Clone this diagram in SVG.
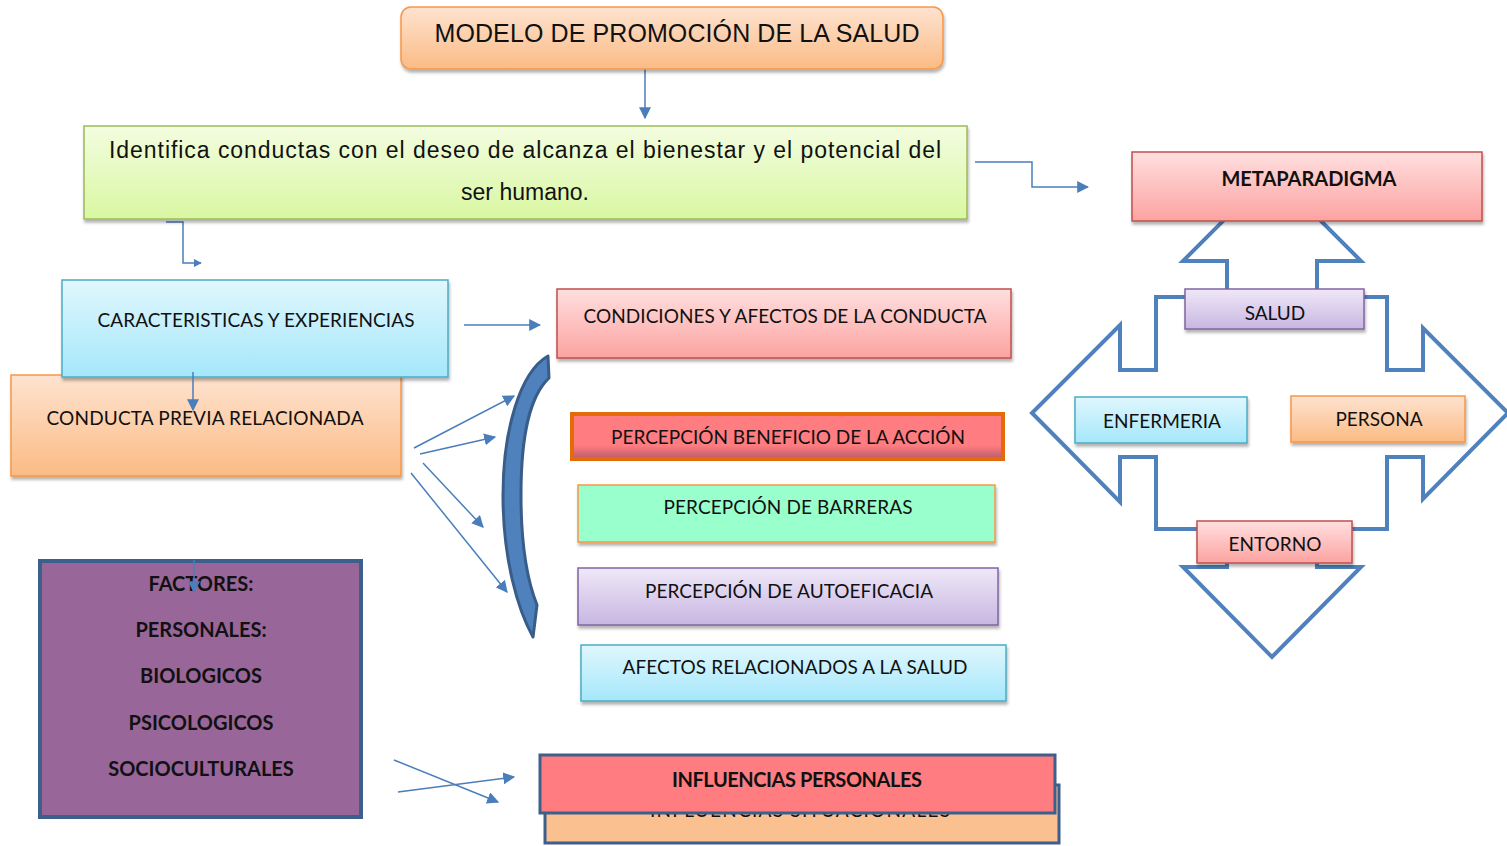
<svg xmlns="http://www.w3.org/2000/svg" width="1507" height="846" viewBox="0 0 1507 846">
<defs>
<linearGradient id="gOrange" x1="0" y1="0" x2="0" y2="1"><stop offset="0" stop-color="#fee3d0"/><stop offset="1" stop-color="#fbbb85"/></linearGradient>
<linearGradient id="gPink" x1="0" y1="0" x2="0" y2="1"><stop offset="0" stop-color="#ffdfdf"/><stop offset="1" stop-color="#fca3a1"/></linearGradient>
<linearGradient id="gCyan" x1="0" y1="0" x2="0" y2="1"><stop offset="0" stop-color="#e0f7fd"/><stop offset="1" stop-color="#a5e7fb"/></linearGradient>
<linearGradient id="gLav" x1="0" y1="0" x2="0" y2="1"><stop offset="0" stop-color="#efe8f8"/><stop offset="1" stop-color="#c8b6e1"/></linearGradient>
<linearGradient id="gGreen" x1="0" y1="0" x2="0" y2="1"><stop offset="0" stop-color="#f3fde0"/><stop offset="1" stop-color="#d9f7a2"/></linearGradient>
<linearGradient id="gRed" x1="0" y1="0" x2="0" y2="1"><stop offset="0" stop-color="#ff7c80"/><stop offset="0.7" stop-color="#ff7c80"/><stop offset="1" stop-color="#b85a68"/></linearGradient>
<filter id="sh" x="-5%" y="-10%" width="110%" height="130%"><feDropShadow dx="1" dy="3" stdDeviation="1.5" flood-color="#000" flood-opacity="0.3"/></filter>
<marker id="ah" viewBox="0 0 10 10" refX="9" refY="5" markerWidth="8" markerHeight="8" markerUnits="userSpaceOnUse" orient="auto"><path d="M0,0 L10,5 L0,10 Z" fill="#4a7ebb"/></marker>
<marker id="ahL" viewBox="0 0 10 10" refX="9" refY="5" markerWidth="12" markerHeight="12" markerUnits="userSpaceOnUse" orient="auto"><path d="M0,0 L10,5 L0,10 Z" fill="#4a7ebb"/></marker>
<style>
.c{font-family:Lato,"Liberation Sans",sans-serif;font-size:19px;fill:#111;text-anchor:middle}
.b{font-family:Lato,"Liberation Sans",sans-serif;font-size:20px;font-weight:bold;fill:#111;text-anchor:middle}
.a{font-family:"Liberation Sans",Arial,sans-serif;fill:#111;text-anchor:middle}
.ln{fill:none;stroke:#4a7ebb;stroke-width:1.5}
.qa{fill:#fff;stroke:#4f81bd;stroke-width:4;stroke-linejoin:miter}
</style>
</defs>

<g id="quad-arrow">
<path class="qa" d="M1272,172 L1361,261 L1317,261 L1317,297 L1387,297 L1387,370 L1423,370 L1423,328 L1508,413 L1423,499 L1423,457 L1387,457 L1387,529 L1317,529 L1317,567 L1361,567 L1272,657 L1183,567 L1227,567 L1227,529 L1156,529 L1156,457 L1120,457 L1120,502 L1032,413 L1120,325 L1120,370 L1156,370 L1156,297 L1227,297 L1227,261 L1183,261 Z"/>
</g>

<g id="connectors">
<path class="ln" d="M645,64 L645,118" marker-end="url(#ahL)"/>
<path class="ln" d="M975,162 L1032,162 L1032,187 L1088,187" marker-end="url(#ahL)"/>
<path class="ln" d="M166,222 L183,222 L183,263 L201,263" marker-end="url(#ah)"/>
<path class="ln" d="M464,325 L540,325" marker-end="url(#ahL)"/>
<path class="ln" d="M414,448 L514,396" marker-end="url(#ahL)"/>
<path class="ln" d="M420,454 L495,437" marker-end="url(#ahL)"/>
<path class="ln" d="M423,463 L483,527" marker-end="url(#ahL)"/>
<path class="ln" d="M411,473 L507,592" marker-end="url(#ahL)"/>
<path class="ln" d="M394,760 L498,802" marker-end="url(#ahL)"/>
<path class="ln" d="M398,792 L514,777" marker-end="url(#ahL)"/>
</g>

<g id="bracket">
<path d="M548,356 C520,372 503,430 503,495 C503,560 518,610 533,637 L537,605 C527,580 521,545 521,495 C521,430 531,395 549,378 Z" fill="#4f81bd" stroke="#385d8a" stroke-width="3" stroke-linejoin="round"/>
</g>

<g id="title">
<rect x="401" y="7" width="542" height="62" rx="10" fill="url(#gOrange)" stroke="#f79646" stroke-width="1.5" filter="url(#sh)"/>
<text class="a" x="677" y="42" font-size="25" textLength="485">MODELO DE PROMOCIÓN DE LA SALUD</text>
</g>

<g id="identifica">
<rect x="84" y="126" width="883" height="93" fill="url(#gGreen)" stroke="#9bbb59" stroke-width="1.5" filter="url(#sh)"/>
<text class="a" x="525" y="158" font-size="23" textLength="832">Identifica conductas con el deseo de alcanza el bienestar y el potencial del</text>
<text class="a" x="525" y="200" font-size="23">ser humano.</text>
</g>

<g id="conducta-previa">
<rect x="11" y="375" width="390" height="101" fill="url(#gOrange)" stroke="#f79646" stroke-width="1.5" filter="url(#sh)"/>
<text class="c" x="205" y="425" textLength="317">CONDUCTA PREVIA RELACIONADA</text>
</g>

<g id="caracteristicas">
<rect x="62" y="280" width="386" height="97" fill="url(#gCyan)" stroke="#4bacc6" stroke-width="1.5" filter="url(#sh)"/>
<text class="c" x="256" y="327" textLength="317">CARACTERISTICAS Y EXPERIENCIAS</text>
</g>
<path class="ln" d="M193,372 L193,410" marker-end="url(#ahL)"/>

<g id="condiciones">
<rect x="557" y="289" width="454" height="69" fill="url(#gPink)" stroke="#c0504d" stroke-width="1.5" filter="url(#sh)"/>
<text class="c" x="785" y="323" textLength="403">CONDICIONES Y AFECTOS DE LA CONDUCTA</text>
</g>

<g id="beneficio">
<rect x="572" y="414" width="431" height="45" fill="url(#gRed)" stroke="#e36c09" stroke-width="4"/>
<text class="c" x="788" y="444" textLength="354">PERCEPCIÓN BENEFICIO DE LA ACCIÓN</text>
</g>

<g id="barreras">
<rect x="578" y="485" width="417" height="57" fill="#99ffcc" stroke="#f79646" stroke-width="1.5" filter="url(#sh)"/>
<text class="c" x="788" y="514" textLength="249">PERCEPCIÓN DE BARRERAS</text>
</g>

<g id="autoeficacia">
<rect x="578" y="568" width="420" height="57" fill="url(#gLav)" stroke="#8064a2" stroke-width="1.5" filter="url(#sh)"/>
<text class="c" x="789" y="598" textLength="288">PERCEPCIÓN DE AUTOEFICACIA</text>
</g>

<g id="afectos">
<rect x="581" y="645" width="425" height="56" fill="url(#gCyan)" stroke="#4bacc6" stroke-width="1.5" filter="url(#sh)"/>
<text class="c" x="795" y="674" textLength="345">AFECTOS RELACIONADOS A LA SALUD</text>
</g>

<g id="factores">
<rect x="40" y="561" width="321" height="256" fill="#996699" stroke="#3c5f8c" stroke-width="4"/>
<text class="b" x="201" y="591">FACTORES:</text>
<text class="b" x="201" y="637">PERSONALES:</text>
<text class="b" x="201" y="683">BIOLOGICOS</text>
<text class="b" x="201" y="730">PSICOLOGICOS</text>
<text class="b" x="201" y="776">SOCIOCULTURALES</text>
</g>
<path class="ln" d="M194,560 L194,592" marker-end="url(#ahL)"/>

<g id="influencias-situacionales">
<rect x="545" y="785" width="514" height="58" fill="#fac090" stroke="#3c5f8c" stroke-width="3"/>
<text class="c" x="800" y="817" textLength="300">INFLUENCIAS SITUACIONALES</text>
</g>

<g id="influencias-personales">
<rect x="540" y="755" width="515" height="58" fill="#ff7c80" stroke="#3c5f8c" stroke-width="3"/>
<text class="b" x="797" y="787" textLength="250">INFLUENCIAS PERSONALES</text>
</g>

<g id="metaparadigma">
<rect x="1132" y="152" width="350" height="69" fill="url(#gPink)" stroke="#c0504d" stroke-width="1.5" filter="url(#sh)"/>
<text class="b" x="1309" y="186" textLength="175">METAPARADIGMA</text>
</g>

<g id="salud">
<rect x="1185" y="289" width="179" height="40" fill="url(#gLav)" stroke="#8064a2" stroke-width="1.5" filter="url(#sh)"/>
<text class="c" x="1275" y="320">SALUD</text>
</g>

<g id="enfermeria">
<rect x="1075" y="397" width="172" height="46" fill="url(#gCyan)" stroke="#4bacc6" stroke-width="1.5" filter="url(#sh)"/>
<text class="c" x="1162" y="428">ENFERMERIA</text>
</g>

<g id="persona">
<rect x="1291" y="396" width="174" height="46" fill="url(#gOrange)" stroke="#f79646" stroke-width="1.5" filter="url(#sh)"/>
<text class="c" x="1379" y="426">PERSONA</text>
</g>

<g id="entorno">
<rect x="1197" y="521" width="155" height="42" fill="url(#gPink)" stroke="#c0504d" stroke-width="1.5" filter="url(#sh)"/>
<text class="c" x="1275" y="551">ENTORNO</text>
</g>
</svg>
